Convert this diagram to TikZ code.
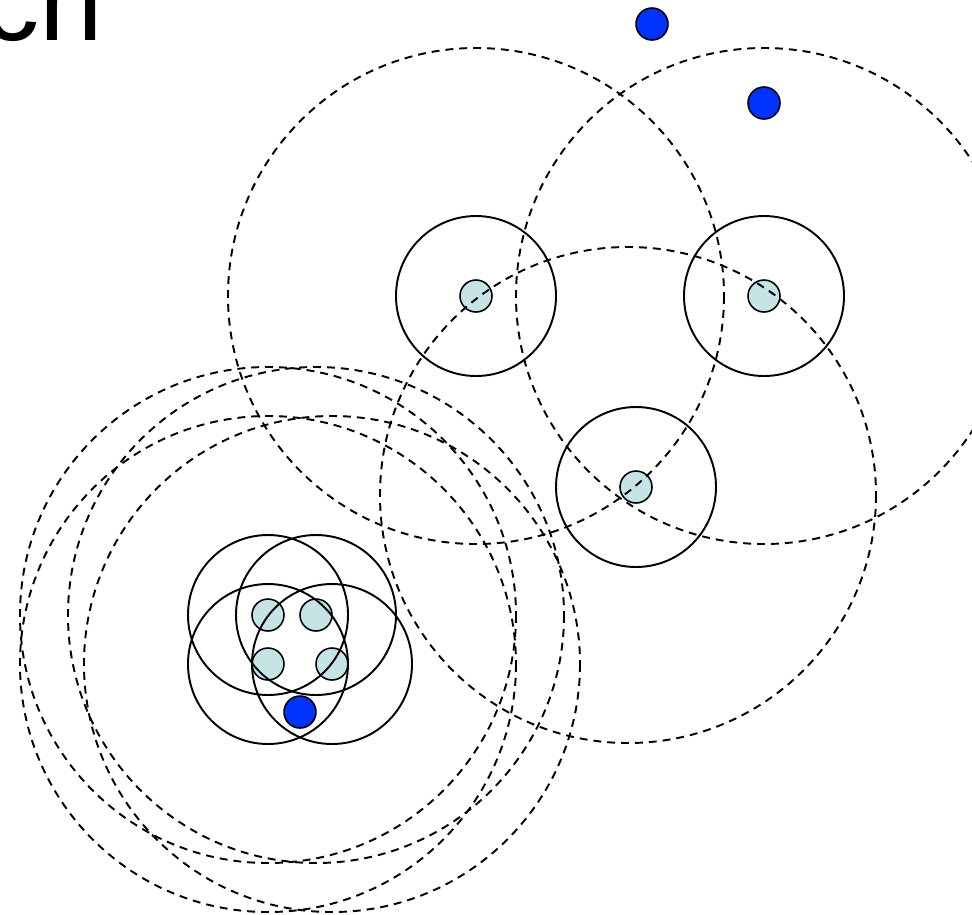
\documentclass[tikz,border=0pt]{standalone}
\usepackage{fontspec}
\setmainfont{Liberation Sans}
\definecolor{siteblue}{RGB}{198,228,230}
\definecolor{queryblue}{RGB}{0,51,255}
\begin{document}
\begin{tikzpicture}[x=0.02cm, y=-0.02cm,
		site/.style={circle, draw, fill=siteblue, minimum size=0.64cm, inner sep=0pt, line width=0.9pt},
		query/.style={circle, draw, fill=queryblue, minimum size=0.64cm, inner sep=0pt, line width=0.9pt},
		near/.style={line width=1.1pt},
		far/.style={line width=1.1pt, dash pattern=on 4.5pt off 3.4pt}]

	\useasboundingbox (0,0) rectangle (972,914);
	\clip (0,0) rectangle (972,914);

	\node[anchor=base east, inner sep=0pt, font=\fontsize{65}{65}\selectfont] (title) at (103,40) {ch};

	% puntos de consulta
	\foreach \i/\x/\y in {1/652/24, 2/764/103, 3/300/712} {
			\node[query] (q\i) at (\x,\y) {};
		}

	% grupo de arriba
	\foreach \i/\x/\y in {1/476/296, 2/764/296, 3/636/487} {
			\node[site] (u\i) at (\x,\y) {};
		}
	\foreach \i in {1,2,3} {
			\draw[near] (u\i.center) circle[radius=80];
		}
	\draw[far] (u1.center) circle[radius=248];
	\draw[far] (u2.center) circle[radius=248];
	\draw[far] (628,495) circle[radius=248];

	% grupo de abajo
	\foreach \i/\x/\y in {1/268/615, 2/316/615, 3/268/664, 4/332/664} {
			\node[site] (l\i) at (\x,\y) {};
		}
	\foreach \i in {1,2,3,4} {
			\draw[near] (l\i.center) circle[radius=80];
			\draw[far] (l\i.center) circle[radius=248];
		}
\end{tikzpicture}
\end{document}
